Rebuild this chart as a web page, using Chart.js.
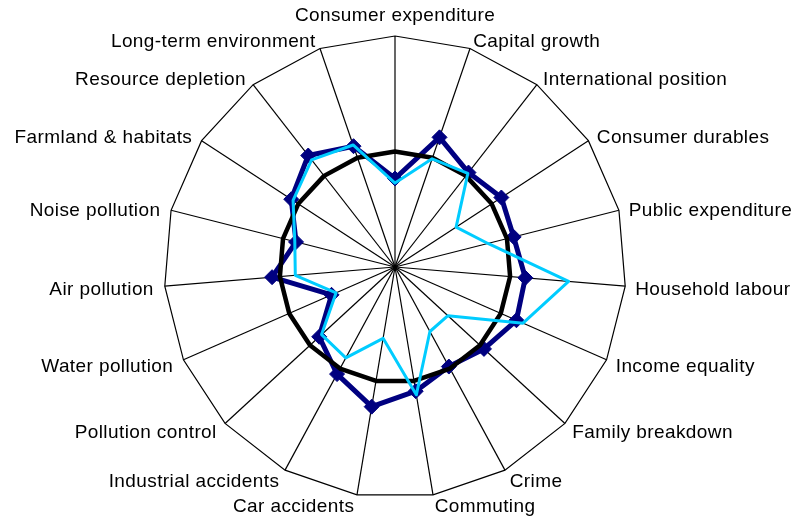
<!DOCTYPE html>
<html>
<head>
<meta charset="utf-8">
<script src="https://cdn.jsdelivr.net/npm/chart.js@4/dist/chart.umd.min.js"></script>
<style>
  html, body { margin: 0; padding: 0; background: #fff; }
  #wrap { width: 798px; height: 518px; }
</style>
</head>
<body>
<div id="wrap"><canvas id="c" width="798" height="518"></canvas></div>
<script>
const categories = [
  "Consumer expenditure", "Capital growth", "International position", "Consumer durables",
  "Public expenditure", "Household labour", "Income equality", "Family breakdown",
  "Crime", "Commuting", "Car accidents", "Industrial accidents", "Pollution control",
  "Water pollution", "Air pollution", "Noise pollution", "Farmland & habitats",
  "Resource depletion", "Long-term environment"
];
const baselineValues = [100, 100, 100, 100, 100, 100, 100, 100, 100, 100, 100, 100, 100, 100, 100, 100, 100, 100, 100];
const navyValues = [76.6, 118.7, 103.6, 110, 106, 113.2, 114.8, 104.7, 98, 109, 122.6, 105.4, 89.2, 60, 106.8, 88.4, 107.3, 122.3, 110.6];
const cyanValues = [72.7, 99, 102.7, 63.2, 83, 150.8, 121, 62.3, 63.5, 112.2, 62.6, 89.5, 86.4, 55.7, 86.6, 89.5, 105.4, 117.6, 111.7];
const scaleMin = 0;
const scaleMax = 200;

const labelPlugin = {
  id: 'outerLabels',
  afterDraw(chart) {
    const scale = chart.scales.r;
    const ctx = chart.ctx;
    const n = chart.data.labels.length;
    ctx.save();
    ctx.font = '19px "Liberation Sans", Arial, sans-serif';
    if ('letterSpacing' in ctx) ctx.letterSpacing = '0.4px';
    ctx.fillStyle = '#000';
    ctx.textBaseline = 'middle';
    for (let i = 0; i < n; i++) {
      const p = scale.getPointPosition(i, scale.drawingArea + 10);
      const text = chart.data.labels[i];
      if (i === 0) {
        ctx.textAlign = 'center';
        ctx.fillText(text, p.x, p.y - 10);
      } else if (i < n / 2) {
        ctx.textAlign = 'left';
        ctx.fillText(text, p.x, p.y + 2.5);
      } else {
        ctx.textAlign = 'right';
        ctx.fillText(text, p.x - 1, p.y + 2.5);
      }
    }
    ctx.restore();
  }
};

new Chart(document.getElementById('c'), {
  type: 'radar',
  data: {
    labels: categories,
    datasets: [
      {
        label: 'Navy',
        data: navyValues,
        borderColor: '#000080',
        backgroundColor: '#000080',
        borderWidth: 5,
        pointStyle: 'rectRot',
        pointRadius: 7.5,
        pointBorderWidth: 1,
        pointBackgroundColor: '#000080',
        pointBorderColor: '#000080',
        fill: false,
        order: 3
      },
      {
        label: 'Baseline',
        data: baselineValues,
        borderColor: '#000000',
        borderWidth: 4.5,
        pointRadius: 0,
        fill: false,
        order: 2
      },
      {
        label: 'Cyan',
        data: cyanValues,
        borderColor: '#00CCFF',
        borderWidth: 3,
        pointRadius: 0,
        fill: false,
        order: 1
      }
    ]
  },
  options: {
    responsive: false,
    animation: false,
    devicePixelRatio: 1,
    layout: { padding: { top: 36, bottom: 20, left: 164, right: 172 } },
    plugins: { legend: { display: false }, tooltip: { enabled: false } },
    elements: { line: { tension: 0, borderJoinStyle: 'round' } },
    scales: {
      r: {
        min: scaleMin,
        max: scaleMax,
        ticks: { display: false, stepSize: scaleMax },
        grid: { color: '#000', lineWidth: 1.2, circular: false },
        angleLines: { color: '#000', lineWidth: 1.2 },
        pointLabels: { display: false }
      }
    }
  },
  plugins: [labelPlugin]
});
</script>
</body>
</html>
